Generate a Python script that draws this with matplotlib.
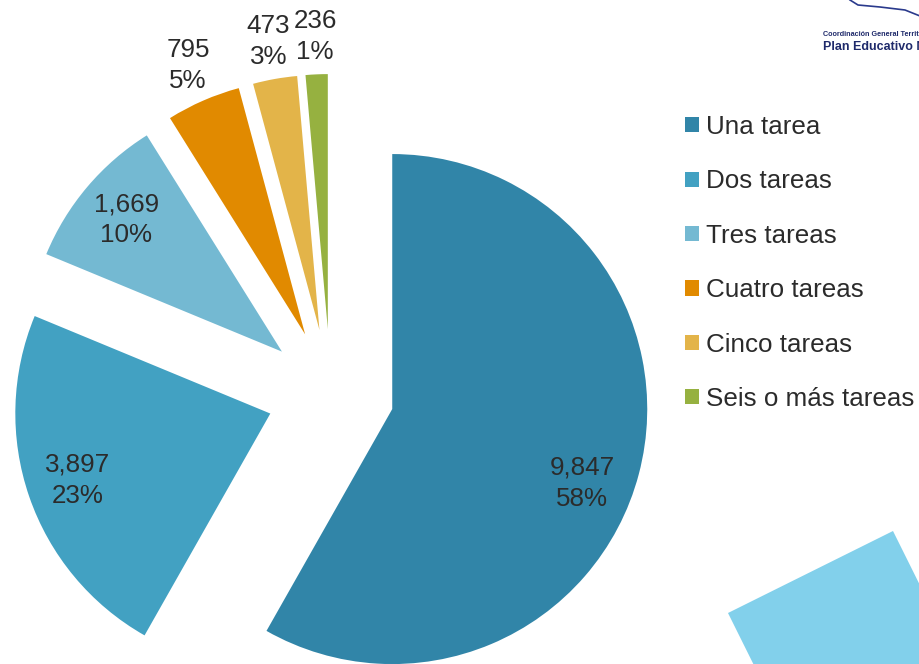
import numpy as np
import matplotlib.pyplot as plt
from matplotlib.patches import Patch, Polygon

# Datos: número de tareas
categorias = ["Una tarea", "Dos tareas", "Tres tareas",
              "Cuatro tareas", "Cinco tareas", "Seis o más tareas"]
valores = [9847, 3897, 1669, 795, 473, 236]
porcentajes = ["58%", "23%", "10%", "5%", "3%", "1%"]
colores = ["#3185A8", "#42A1C2", "#74B9D2", "#E18A00", "#E3B449", "#96B140"]

# estilo
plt.rcParams['font.family'] = ['Liberation Sans', 'DejaVu Sans']
TEXTO = "#2b2b2b"
FS = 18.7
EXPLOTAR = 0.25
# distancia de etiquetas (desde el centro de cada sector desplazado)
DIST_DENTRO = 0.8
DIST_FUERA = 1.15
# pequeño giro de la etiqueta del sector mayor (grados), como en el original
GIRO = {0: -6.5}

fig = plt.figure(figsize=(9.2, 6.64), dpi=100)
ax = fig.add_axes([0, 0, 1, 1])

wedges, _ = ax.pie(valores, colors=colores, startangle=90, counterclock=False,
                   explode=[EXPLOTAR] * len(valores), radius=1.0,
                   wedgeprops=dict(linewidth=0))

# etiquetas valor + porcentaje
for i, w in enumerate(wedges):
    ang = np.deg2rad((w.theta1 + w.theta2) / 2 + GIRO.get(i, 0))
    d = DIST_DENTRO if valores[i] / sum(valores) > 0.07 else DIST_FUERA
    cx, cy = w.center
    x = cx + d * np.cos(ang)
    y = cy + d * np.sin(ang)
    ax.text(x, y, f"{valores[i]:,}\n{porcentajes[i]}", ha='center', va='center',
            fontsize=FS, color=TEXTO, linespacing=1.38)

# escala: 255 px por unidad, centro del pastel en (330.6, 392.8) px
ax.set_xlim(-330.6 / 255, (920 - 330.6) / 255)
ax.set_ylim(-(664 - 392.8) / 255, 392.8 / 255)
ax.set_aspect('auto')
ax.axis('off')

# leyenda
handles = [Patch(facecolor=c, edgecolor='none') for c in colores]
fig.legend(handles, categorias, loc='upper left', bbox_to_anchor=(685 / 920, 1 - 115 / 664),
           frameon=False, fontsize=FS, labelcolor=TEXTO, handlelength=0.52,
           handleheight=0.52, handletextpad=0.3, labelspacing=1.17,
           borderpad=0, borderaxespad=0)

# decoraciones de la diapositiva
fig.patches.append(Polygon([(728 / 920, 1 - 613 / 664), (893 / 920, 1 - 531 / 664),
                            (1057 / 920, 1 - 861 / 664), (892 / 920, 1 - 943 / 664)],
                           closed=True, transform=fig.transFigure,
                           facecolor="#82D0EB", edgecolor='none'))
fig.add_artist(plt.Line2D([850 / 920, 858 / 920, 880 / 920, 905 / 920, 920 / 920],
                          [1.0, 1 - 5 / 664, 1 - 7 / 664, 1 - 10 / 664, 1 - 16 / 664],
                          transform=fig.transFigure, color="#2A3A8C", linewidth=1.2))
fig.text(823 / 920, 1 - 36 / 664, "Coordinación General Territorial", fontsize=5.2,
         fontweight='bold', color="#1F2A6B", va='baseline')
fig.text(823 / 920, 1 - 50 / 664, "Plan Educativo N", fontsize=9.0,
         fontweight='bold', color="#1F2A6B", va='baseline')

fig.savefig("out.png", dpi=100)
